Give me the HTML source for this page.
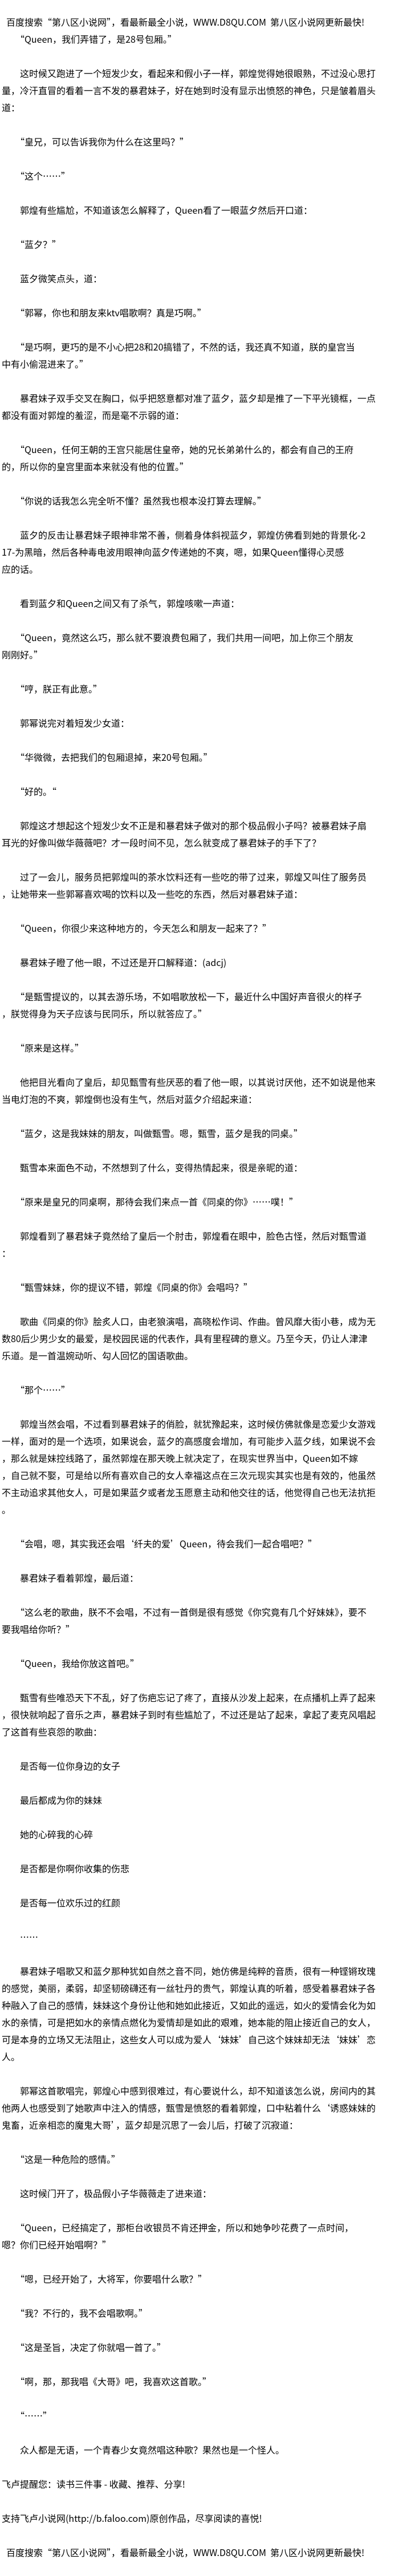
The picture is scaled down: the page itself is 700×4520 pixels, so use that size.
<!DOCTYPE html>
<html lang="zh">
<head>
<meta charset="utf-8">
<style>
html,body{margin:0;padding:0;background:#fff;}
body{width:700px;height:4520px;overflow:hidden;position:relative;}
#c{position:absolute;left:3px;top:23px;width:697px;
font-family:"Noto Sans CJK SC","WenQuanYi Zen Hei","Liberation Sans",sans-serif;
font-size:16px;color:#000;}
.l{height:30px;line-height:30px;white-space:nowrap;}
.h{padding-left:8px;}
</style>
</head>
<body>
<div id="c">
<div class="l h">百度搜索“第八区小说网”，看最新最全小说，WWW.D8QU.COM&nbsp;&nbsp;第八区小说网更新最快!</div>
<div class="l">　　“Queen，我们弄错了，是28号包厢。”</div>
<div class="l"></div>
<div class="l">　　这时候又跑进了一个短发少女，看起来和假小子一样，郭煌觉得她很眼熟，不过没心思打</div>
<div class="l">量，冷汗直冒的看着一言不发的暴君妹子，好在她到时没有显示出愤怒的神色，只是皱着眉头</div>
<div class="l">道：</div>
<div class="l"></div>
<div class="l">　　“皇兄，可以告诉我你为什么在这里吗？”</div>
<div class="l"></div>
<div class="l">　　“这个……”</div>
<div class="l"></div>
<div class="l">　　郭煌有些尴尬，不知道该怎么解释了，Queen看了一眼蓝夕然后开口道：</div>
<div class="l"></div>
<div class="l">　　“蓝夕？”</div>
<div class="l"></div>
<div class="l">　　蓝夕微笑点头，道：</div>
<div class="l"></div>
<div class="l">　　“郭幂，你也和朋友来ktv唱歌啊？真是巧啊。”</div>
<div class="l"></div>
<div class="l">　　“是巧啊，更巧的是不小心把28和20搞错了，不然的话，我还真不知道，朕的皇宫当</div>
<div class="l">中有小偷混进来了。”</div>
<div class="l"></div>
<div class="l">　　暴君妹子双手交叉在胸口，似乎把怒意都对准了蓝夕，蓝夕却是推了一下平光镜框，一点</div>
<div class="l">都没有面对郭煌的羞涩，而是毫不示弱的道：</div>
<div class="l"></div>
<div class="l">　　“Queen，任何王朝的王宫只能居住皇帝，她的兄长弟弟什么的，都会有自己的王府</div>
<div class="l">的，所以你的皇宫里面本来就没有他的位置。”</div>
<div class="l"></div>
<div class="l">　　“你说的话我怎么完全听不懂？虽然我也根本没打算去理解。”</div>
<div class="l"></div>
<div class="l">　　蓝夕的反击让暴君妹子眼神非常不善，侧着身体斜视蓝夕，郭煌仿佛看到她的背景化-2</div>
<div class="l">17-为黑暗，然后各种毒电波用眼神向蓝夕传递她的不爽，嗯，如果Queen懂得心灵感</div>
<div class="l">应的话。</div>
<div class="l"></div>
<div class="l">　　看到蓝夕和Queen之间又有了杀气，郭煌咳嗽一声道：</div>
<div class="l"></div>
<div class="l">　　“Queen，竟然这么巧，那么就不要浪费包厢了，我们共用一间吧，加上你三个朋友</div>
<div class="l">刚刚好。”</div>
<div class="l"></div>
<div class="l">　　“哼，朕正有此意。”</div>
<div class="l"></div>
<div class="l">　　郭幂说完对着短发少女道：</div>
<div class="l"></div>
<div class="l">　　“华微微，去把我们的包厢退掉，来20号包厢。”</div>
<div class="l"></div>
<div class="l">　　“好的。“</div>
<div class="l"></div>
<div class="l">　　郭煌这才想起这个短发少女不正是和暴君妹子做对的那个极品假小子吗？被暴君妹子扇</div>
<div class="l">耳光的好像叫做华薇薇吧？才一段时间不见，怎么就变成了暴君妹子的手下了？</div>
<div class="l"></div>
<div class="l">　　过了一会儿，服务员把郭煌叫的茶水饮料还有一些吃的带了过来，郭煌又叫住了服务员</div>
<div class="l">，让她带来一些郭幂喜欢喝的饮料以及一些吃的东西，然后对暴君妹子道：</div>
<div class="l"></div>
<div class="l">　　“Queen，你很少来这种地方的，今天怎么和朋友一起来了？”</div>
<div class="l"></div>
<div class="l">　　暴君妹子瞪了他一眼，不过还是开口解释道：(adcj)</div>
<div class="l"></div>
<div class="l">　　“是甄雪提议的，以其去游乐场，不如唱歌放松一下，最近什么中国好声音很火的样子</div>
<div class="l">，朕觉得身为天子应该与民同乐，所以就答应了。”</div>
<div class="l"></div>
<div class="l">　　“原来是这样。”</div>
<div class="l"></div>
<div class="l">　　他把目光看向了皇后，却见甄雪有些厌恶的看了他一眼，以其说讨厌他，还不如说是他来</div>
<div class="l">当电灯泡的不爽，郭煌倒也没有生气，然后对蓝夕介绍起来道：</div>
<div class="l"></div>
<div class="l">　　“蓝夕，这是我妹妹的朋友，叫做甄雪。嗯，甄雪，蓝夕是我的同桌。”</div>
<div class="l"></div>
<div class="l">　　甄雪本来面色不动，不然想到了什么，变得热情起来，很是亲昵的道：</div>
<div class="l"></div>
<div class="l">　　“原来是皇兄的同桌啊，那待会我们来点一首《同桌的你》……噗！”</div>
<div class="l"></div>
<div class="l">　　郭煌看到了暴君妹子竟然给了皇后一个肘击，郭煌看在眼中，脸色古怪，然后对甄雪道</div>
<div class="l">：</div>
<div class="l"></div>
<div class="l">　　“甄雪妹妹，你的提议不错，郭煌《同桌的你》会唱吗？”</div>
<div class="l"></div>
<div class="l">　　歌曲《同桌的你》脍炙人口，由老狼演唱，高晓松作词、作曲。曾风靡大街小巷，成为无</div>
<div class="l">数80后少男少女的最爱，是校园民谣的代表作，具有里程碑的意义。乃至今天，仍让人津津</div>
<div class="l">乐道。是一首温婉动听、勾人回忆的国语歌曲。</div>
<div class="l"></div>
<div class="l">　　“那个……”</div>
<div class="l"></div>
<div class="l">　　郭煌当然会唱，不过看到暴君妹子的俏脸，就犹豫起来，这时候仿佛就像是恋爱少女游戏</div>
<div class="l">一样，面对的是一个选项，如果说会，蓝夕的高感度会增加，有可能步入蓝夕线，如果说不会</div>
<div class="l">，那么就是妹控线路了，虽然郭煌在那天晚上就决定了，在现实世界当中，Queen如不嫁</div>
<div class="l">，自己就不娶，可是给以所有喜欢自己的女人幸福这点在三次元现实其实也是有效的，他虽然</div>
<div class="l">不主动追求其他女人，可是如果蓝夕或者龙玉愿意主动和他交往的话，他觉得自己也无法抗拒</div>
<div class="l">。</div>
<div class="l"></div>
<div class="l">　　“会唱，嗯，其实我还会唱‘纤夫的爱’Queen，待会我们一起合唱吧？”</div>
<div class="l"></div>
<div class="l">　　暴君妹子看着郭煌，最后道：</div>
<div class="l"></div>
<div class="l">　　“这么老的歌曲，朕不不会唱，不过有一首倒是很有感觉《你究竟有几个好妹妹》，要不</div>
<div class="l">要我唱给你听？”</div>
<div class="l"></div>
<div class="l">　　“Queen，我给你放这首吧。”</div>
<div class="l"></div>
<div class="l">　　甄雪有些唯恐天下不乱，好了伤疤忘记了疼了，直接从沙发上起来，在点播机上弄了起来</div>
<div class="l">，很快就响起了音乐之声，暴君妹子到时有些尴尬了，不过还是站了起来，拿起了麦克风唱起</div>
<div class="l">了这首有些哀怨的歌曲：</div>
<div class="l"></div>
<div class="l">　　是否每一位你身边的女子</div>
<div class="l"></div>
<div class="l">　　最后都成为你的妹妹</div>
<div class="l"></div>
<div class="l">　　她的心碎我的心碎</div>
<div class="l"></div>
<div class="l">　　是否都是你啊你收集的伤悲</div>
<div class="l"></div>
<div class="l">　　是否每一位欢乐过的红颜</div>
<div class="l"></div>
<div class="l">　　……</div>
<div class="l"></div>
<div class="l">　　暴君妹子唱歌又和蓝夕那种犹如自然之音不同，她仿佛是纯粹的音质，很有一种铿锵玫瑰</div>
<div class="l">的感觉，美丽，柔弱，却坚韧磅礴还有一丝牡丹的贵气，郭煌认真的听着，感受着暴君妹子各</div>
<div class="l">种融入了自己的感情，妹妹这个身份让他和她如此接近，又如此的遥远，如火的爱情会化为如</div>
<div class="l">水的亲情，可是把如水的亲情点燃化为爱情却是如此的艰难，她本能的阻止接近自己的女人，</div>
<div class="l">可是本身的立场又无法阻止，这些女人可以成为爱人‘妹妹’自己这个妹妹却无法‘妹妹’恋</div>
<div class="l">人。</div>
<div class="l"></div>
<div class="l">　　郭幂这首歌唱完，郭煌心中感到很难过，有心要说什么，却不知道该怎么说，房间内的其</div>
<div class="l">他两人也感受到了她歌声中注入的情感，甄雪是愤怒的看着郭煌，口中粘着什么‘诱惑妹妹的</div>
<div class="l">鬼畜，近亲相恋的魔鬼大哥’，蓝夕却是沉思了一会儿后，打破了沉寂道：</div>
<div class="l"></div>
<div class="l">　　“这是一种危险的感情。”</div>
<div class="l"></div>
<div class="l">　　这时候门开了，极品假小子华薇薇走了进来道：</div>
<div class="l"></div>
<div class="l">　　“Queen，已经搞定了，那柜台收银员不肯还押金，所以和她争吵花费了一点时间，</div>
<div class="l">嗯？你们已经开始唱啊？”</div>
<div class="l"></div>
<div class="l">　　“嗯，已经开始了，大将军，你要唱什么歌？”</div>
<div class="l"></div>
<div class="l">　　“我？不行的，我不会唱歌啊。”</div>
<div class="l"></div>
<div class="l">　　“这是圣旨，决定了你就唱一首了。”</div>
<div class="l"></div>
<div class="l">　　“啊，那，那我唱《大哥》吧，我喜欢这首歌。”</div>
<div class="l"></div>
<div class="l">　　“……”</div>
<div class="l"></div>
<div class="l">　　众人都是无语，一个青春少女竟然唱这种歌？果然也是一个怪人。</div>
<div class="l"></div>
<div class="l">飞卢提醒您：读书三件事 - 收藏、推荐、分享!</div>
<div class="l"></div>
<div class="l">支持飞卢小说网(http://b.faloo.com)原创作品，尽享阅读的喜悦!</div>
<div class="l"></div>
<div class="l h">百度搜索“第八区小说网”，看最新最全小说，WWW.D8QU.COM&nbsp;&nbsp;第八区小说网更新最快!</div>
</div>
</body>
</html>
